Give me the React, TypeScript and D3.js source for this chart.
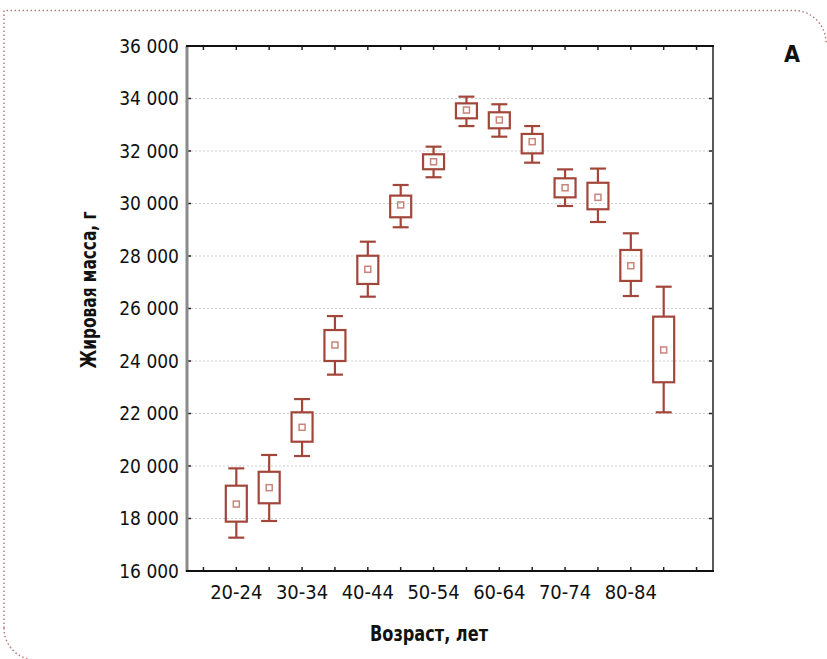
import React from "react";
import * as d3 from "d3";

const categories = ["20-24","25-29","30-34","35-39","40-44","45-49","50-54","55-59","60-64","65-69","70-74","75-79","80-84","85-89"];
const whiskerHigh = [19910,20420,22550,25710,28545,30705,32165,34070,33780,32950,31300,31330,28865,26830];
const boxHigh     = [19250,19780,22045,25180,28010,30300,31875,33815,33475,32650,30960,30790,28230,25690];
const means       = [18550,19175,21475,24610,27495,29945,31590,33560,33180,32355,30600,30235,27630,24420];
const boxLow      = [17880,18580,20925,24000,26935,29475,31305,33245,32865,31910,30235,29780,27050,23190];
const whiskerLow  = [17270,17905,20380,23480,26450,29095,31000,32950,32545,31555,29905,29295,26475,22045];
const yTicks = [16000,18000,20000,22000,24000,26000,28000,30000,32000,34000,36000];
const xTickLabels = ["20-24","30-34","40-44","50-54","60-64","70-74","80-84"];

const W = 827, H = 659;
const L = 187, R = 713, T = 46, B = 571;
const FONT = "'DejaVu Sans Condensed', 'Liberation Sans Narrow', sans-serif";
const BOX = "#a3463a";

export default function App() {
  const x = d3.scaleLinear().domain([-1.5, 14.5]).range([L, R]);
  const y = d3.scaleLinear().domain([16000, 36000]).range([B, T]);
  const xTickIdx = d3.range(-1, 15);
  const fmt = (v: number) => d3.format(",")(v).replace(",", " ");
  const bw = 21, cw = 16, mw = 6;

  const border = `M4,628 V10.5 H794 A32,32 0 0 1 826,42.5 M4,628 A32,32 0 0 0 36,660`;

  return (
    <svg width={W} height={H} style={{ position: "absolute", left: 0, top: 0, background: "#fff" }} fontFamily={FONT}>
      <path d={border} fill="none" stroke="#b97878" strokeWidth={1.5} strokeDasharray="1.5 2.5" />
      {yTicks.slice(1, -1).map((v) => (
        <line key={"g" + v} x1={L} x2={R} y1={y(v)} y2={y(v)} stroke="#cfcfcf" strokeWidth={1} strokeDasharray="2 2" />
      ))}
      {categories.map((c, i) => {
        const cx = x(i);
        return (
          <g key={c} stroke={BOX} fill="none" strokeWidth={2.2}>
            <line x1={cx} x2={cx} y1={y(whiskerHigh[i])} y2={y(boxHigh[i])} />
            <line x1={cx} x2={cx} y1={y(boxLow[i])} y2={y(whiskerLow[i])} />
            <line x1={cx - cw / 2} x2={cx + cw / 2} y1={y(whiskerHigh[i])} y2={y(whiskerHigh[i])} />
            <line x1={cx - cw / 2} x2={cx + cw / 2} y1={y(whiskerLow[i])} y2={y(whiskerLow[i])} />
            <rect x={cx - bw / 2} y={y(boxHigh[i])} width={bw} height={y(boxLow[i]) - y(boxHigh[i])} />
            <rect x={cx - mw / 2} y={y(means[i]) - mw / 2} width={mw} height={mw} stroke="#c9857b" strokeWidth={1.5} />
          </g>
        );
      })}
      {xTickIdx.map((i) => (
        <g key={"xt" + i} stroke="#222" strokeWidth={1.5}>
          <line x1={x(i)} x2={x(i)} y1={T} y2={T + 4} />
          <line x1={x(i)} x2={x(i)} y1={B} y2={B - 4} />
        </g>
      ))}
      {yTicks.map((v) => (
        <g key={"yt" + v} stroke="#222" strokeWidth={1.5}>
          <line x1={L} x2={L + 4} y1={y(v)} y2={y(v)} />
          <line x1={R} x2={R - 4} y1={y(v)} y2={y(v)} />
        </g>
      ))}
      <line x1={L} x2={L} y1={T} y2={B + 1} stroke="#8a8a8a" strokeWidth={3} />
      <line x1={R} x2={R} y1={T} y2={B + 1} stroke="#5a5a5a" strokeWidth={2} />
      <line x1={L - 1} x2={R + 1} y1={T} y2={T} stroke="#111" strokeWidth={2} />
      <line x1={L - 1} x2={R + 1} y1={B} y2={B} stroke="#111" strokeWidth={2} />
      {yTicks.map((v) => (
        <text key={"yl" + v} x={179} y={y(v)} dy="0.36em" textAnchor="end" fontSize={19} fill="#111">
          {fmt(v)}
        </text>
      ))}
      {xTickLabels.map((lab) => {
        const i = categories.indexOf(lab);
        return (
          <text key={"xl" + lab} x={x(i)} y={599} textAnchor="middle" fontSize={20} fill="#111">
            {lab}
          </text>
        );
      })}
      <text x={429} y={641} textAnchor="middle" fontSize={21} fontWeight="bold" fill="#111" textLength={118} lengthAdjust="spacingAndGlyphs">Возраст, лет</text>
      <text transform={`translate(96,290) rotate(-90)`} textAnchor="middle" fontSize={21} fontWeight="bold" fill="#111" textLength={157} lengthAdjust="spacingAndGlyphs">Жировая масса, г</text>
      <text x={792} y={62} textAnchor="middle" fontSize={23} fontWeight="bold" fill="#111">A</text>
    </svg>
  );
}
